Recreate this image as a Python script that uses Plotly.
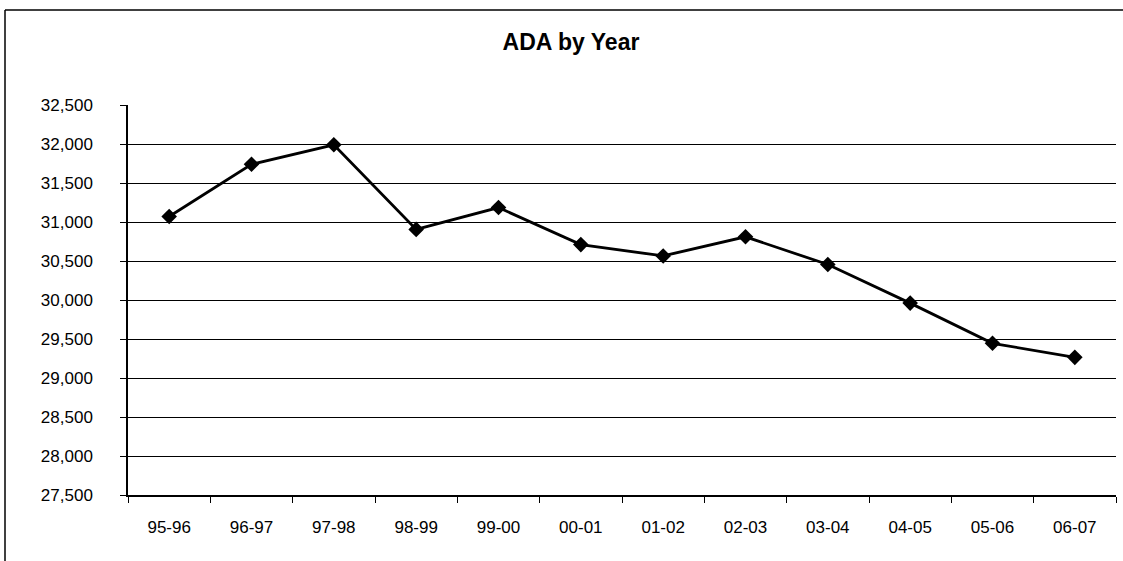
import plotly.graph_objects as go

years = ["95-96", "96-97", "97-98", "98-99", "99-00", "00-01",
         "01-02", "02-03", "03-04", "04-05", "05-06", "06-07"]
ada = [31070, 31740, 31990, 30905, 31185, 30710,
       30565, 30810, 30455, 29960, 29445, 29265]
y_ticks = [27500, 28000, 28500, 29000, 29500, 30000,
           30500, 31000, 31500, 32000, 32500]

W, H = 1123, 561
L, R, T, B = 128, 7, 105, 66
pw, ph = W - L - R, H - T - B

def px_x(p):
    return (p - L) / pw

def px_y(p):
    return (H - B - p) / ph

fig = go.Figure(go.Scatter(
    x=years, y=ada, mode="lines+markers",
    line=dict(color="black", width=2.8),
    marker=dict(symbol="diamond", size=12, color="black"),
    showlegend=False, hoverinfo="x+y",
))

font = "Arial, 'Liberation Sans', sans-serif"

fig.update_layout(
    width=W, height=H,
    margin=dict(l=L, r=R, t=T, b=B),
    paper_bgcolor="white", plot_bgcolor="white",
    font=dict(family=font, color="black", size=17),
    title=dict(text="<b>ADA by Year</b>", x=571 / W, xref="container",
               xanchor="center", y=1 - 42 / H, yanchor="middle",
               font=dict(size=23, family=font, color="black")),
    shapes=[
        dict(type="line", xref="paper", yref="paper",
             x0=px_x(5), x1=px_x(5), y0=px_y(10), y1=px_y(561),
             line=dict(color="black", width=1.5)),
        dict(type="line", xref="paper", yref="paper",
             x0=px_x(5), x1=px_x(1123), y0=px_y(10), y1=px_y(10),
             line=dict(color="black", width=1.5)),
    ],
)

fig.update_xaxes(
    type="category", range=[-0.5, len(years) - 0.5],
    showline=True, linecolor="black", linewidth=1.5,
    ticks="outside", tickson="boundaries", ticklen=6, tickcolor="black",
    tickwidth=1.2, showgrid=False, ticklabelstandoff=16,
    tickfont=dict(size=17),
)
fig.update_yaxes(
    range=[27500, 32500], tickvals=y_ticks, tickformat=",",
    showline=True, linecolor="black", linewidth=1.5,
    ticks="outside", ticklen=6, tickcolor="black", tickwidth=1.2,
    showgrid=True, gridcolor="black", gridwidth=1.2,
    zeroline=False, ticklabelstandoff=24,
    tickfont=dict(size=17),
)

fig.write_html("out.html",
               config={"displayModeBar": False},
               post_script="document.body.style.margin='0';")
